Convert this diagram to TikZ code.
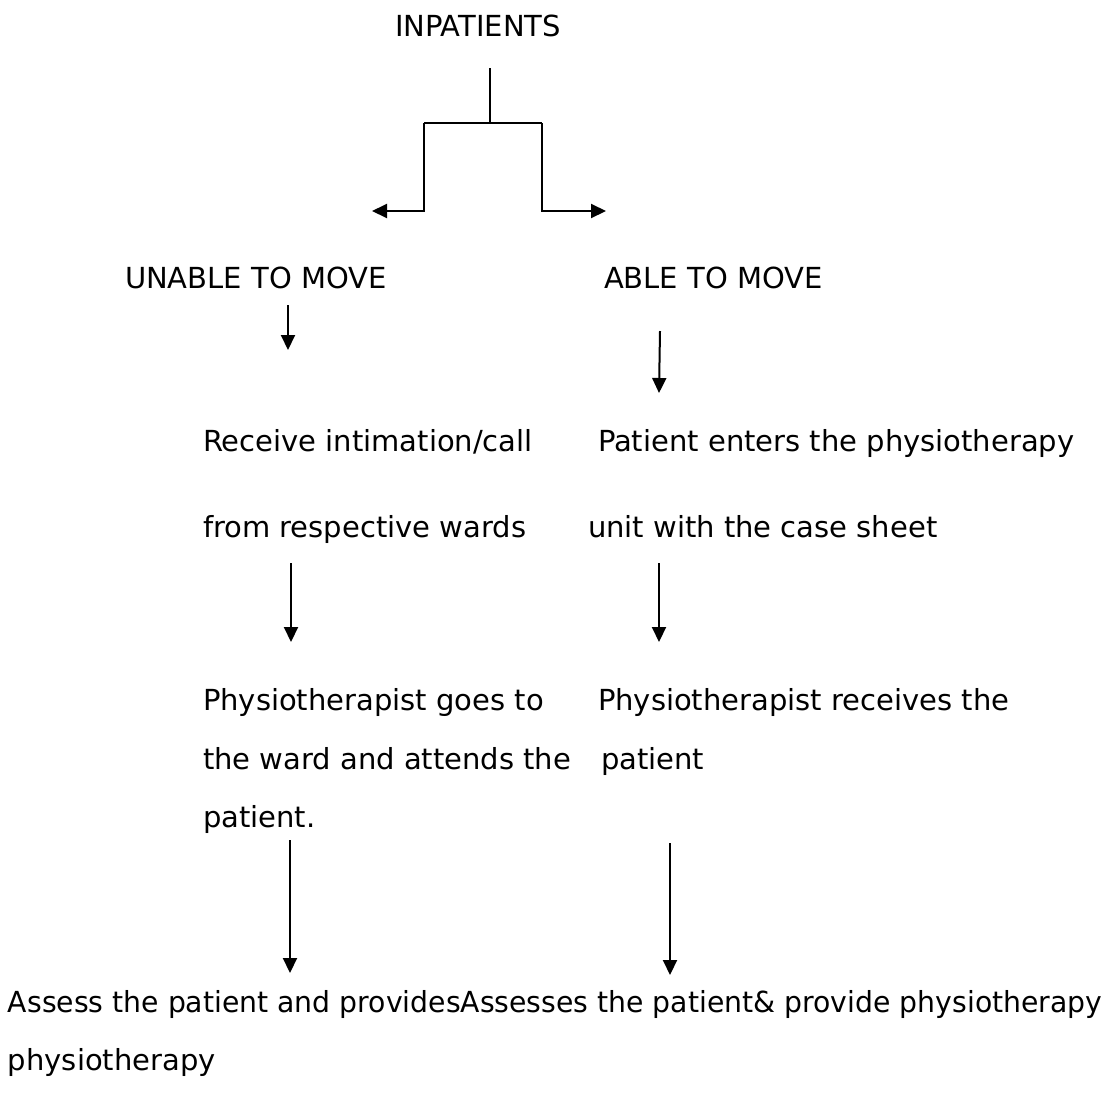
\documentclass[tikz,border=0pt]{standalone}
\usepackage{fontspec}
\setmainfont{DejaVu Sans}
\usetikzlibrary{arrows.meta}
\begin{document}
\begin{tikzpicture}[x=1pt,y=-1pt,
  label/.style={anchor=base west,inner sep=0pt,outer sep=0pt,font=\fontsize{29}{35}\selectfont},
  link/.style={line width=2pt,line cap=butt},
  flow/.style={line width=2pt,-{Triangle[length=15pt,width=14pt]}}]
\useasboundingbox (0,0) rectangle (1107,1093);
\fill[white] (0,0) rectangle (1107,1093);

% headings
\node[label] (top) at (395,36) {INPATIENTS};
\node[label] (unable) at (125,288) {UNABLE TO MOVE};
\node[label] (able) at (604,288) {ABLE TO MOVE};

% left column
\node[label] (l1) at (203,451) {Receive intimation/call};
\node[label] (l2) at (203,537) {from respective wards};
\node[label] (l3) at (203,710) {Physiotherapist goes to};
\node[label] (l4) at (203,769) {the ward and attends the};
\node[label] (l5) at (203,827) {patient.};

% right column
\node[label] (r1) at (598,451) {Patient enters the physiotherapy};
\node[label] (r2) at (588,537) {unit with the case sheet};
\node[label] (r3) at (598,710) {Physiotherapist receives the};
\node[label] (r4) at (601,769) {patient};

% closing lines
\node[label] (fin1) at (8,1012) {\scalebox{0.975}[1]{Assess the patient and providesAssesses the patient\& provide physiotherapy}};
\node[label] (fin2) at (8,1070) {physiotherapy};

% split below the heading
\coordinate (stem) at (490,68);
\coordinate (join) at (490,123);
\coordinate (jl) at (424,123);
\coordinate (jr) at (542,123);
\coordinate (dl) at (424,211);
\coordinate (dr) at (542,211);
\coordinate (tl) at (372,211);
\coordinate (tr) at (606,211);
\draw[link] (stem) -- (join);
\draw[link] (jl) -- (jr);
\draw[flow] (jl) -- (dl) -- (tl);
\draw[flow] (jr) -- (dr) -- (tr);

% arrows between the steps
\coordinate (a1s) at (288,305); \coordinate (a1e) at (288,350);
\coordinate (a2s) at (660,331); \coordinate (a2e) at (659,393);
\coordinate (a3s) at (291,563); \coordinate (a3e) at (291,642);
\coordinate (a4s) at (659,563); \coordinate (a4e) at (659,642);
\coordinate (a5s) at (290,840); \coordinate (a5e) at (290,973);
\coordinate (a6s) at (670,843); \coordinate (a6e) at (670,975);
\draw[flow] (a1s) -- (a1e);
\draw[flow] (a2s) -- (a2e);
\draw[flow] (a3s) -- (a3e);
\draw[flow] (a4s) -- (a4e);
\draw[flow] (a5s) -- (a5e);
\draw[flow] (a6s) -- (a6e);
\end{tikzpicture}
\end{document}
